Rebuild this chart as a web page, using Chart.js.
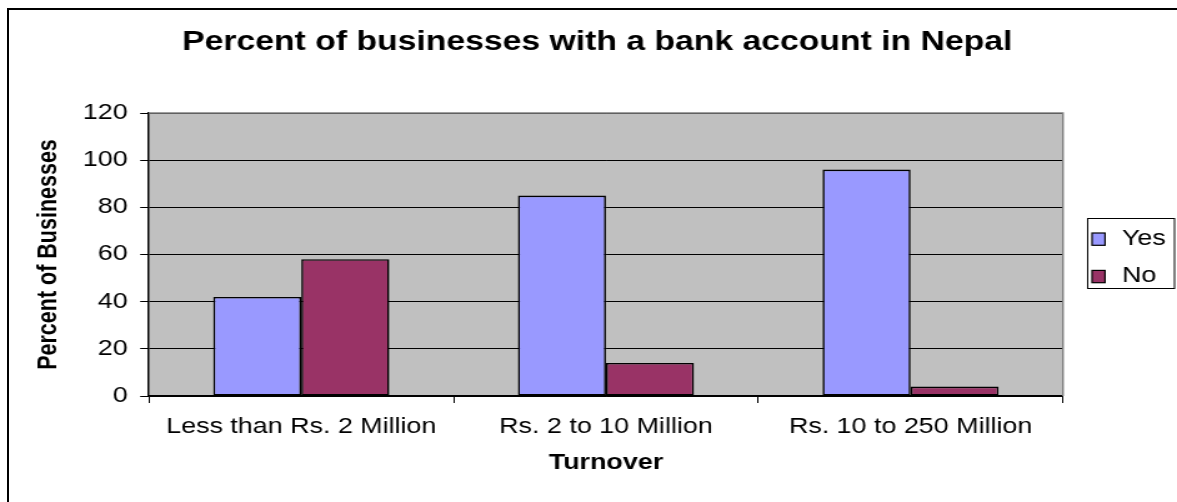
<!DOCTYPE html>
<html>
<head>
<meta charset="utf-8">
<script src="https://cdn.jsdelivr.net/npm/chart.js@4/dist/chart.umd.min.js"></script>
<style>
  html, body { margin: 0; padding: 0; background: #fff; overflow: hidden; }
  #frame { position: absolute; left: 7px; top: 8px; width: 1300px; height: 700px; border: 2px solid #000; box-sizing: border-box; }
  #chart { position: absolute; left: 0; top: 0; }
</style>
</head>
<body>
<div id="frame"></div>
<!-- the original picture is stretched sideways, so the canvas is too -->
<canvas id="chart" width="942" height="502" style="width:1177px;height:502px"></canvas>
<script>
const categories = ['Less than Rs. 2 Million', 'Rs. 2 to 10 Million', 'Rs. 10 to 250 Million'];
const seriesNames = ['Yes', 'No'];
const yesValues = [42, 85, 96];
const noValues = [58, 14, 4];
const yTicks = [0, 20, 40, 60, 80, 100, 120];

const FONT = "'Liberation Sans', Arial, sans-serif";

// gray plot area like the old Excel charts
const plotBackground = {
  id: 'plotBackground',
  beforeDraw(chart) {
    const { ctx, chartArea: a } = chart;
    ctx.save();
    ctx.fillStyle = '#C0C0C0';
    ctx.fillRect(a.left, a.top, a.right - a.left, a.bottom - a.top);
    ctx.restore();
  },
  beforeDatasetsDraw(chart) {
    const { ctx, chartArea: a } = chart;
    ctx.save();
    ctx.strokeStyle = '#808080';
    ctx.lineWidth = 1.5;
    ctx.beginPath();
    ctx.moveTo(a.left, a.top);
    ctx.lineTo(a.right, a.top);
    ctx.lineTo(a.right, a.bottom);
    ctx.stroke();
    ctx.restore();
  }
};

// boxed legend on the right
const legendBox = {
  id: 'legendBox',
  afterDraw(chart) {
    const { ctx, chartArea: a } = chart;
    const left = a.right + 19.3;
    const right = chart.width - 1.5;
    const mid = (a.top + a.bottom) / 2;
    const top = mid - 36.5;
    const bottom = mid + 34.5;
    ctx.save();
    ctx.fillStyle = '#fff';
    ctx.fillRect(left, top, right - left, bottom - top);
    ctx.strokeStyle = '#000';
    ctx.lineWidth = 1;
    ctx.strokeRect(left + 0.5, top + 0.5, right - left - 1, bottom - top - 1);
    ctx.font = '21.5px ' + FONT;
    ctx.textBaseline = 'middle';
    ctx.textAlign = 'left';
    chart.data.datasets.forEach((ds, i) => {
      const cy = top + 21 + i * 37.4;
      ctx.fillStyle = ds.backgroundColor;
      ctx.fillRect(left + 4, cy - 6, 10.4, 12.3);
      ctx.strokeStyle = '#000';
      ctx.lineWidth = 1.2;
      ctx.strokeRect(left + 4, cy - 6, 10.4, 12.3);
      ctx.fillStyle = '#000';
      ctx.fillText(ds.label, left + 28, cy);
    });
    ctx.restore();
  }
};

const ctx = document.getElementById('chart').getContext('2d');
new Chart(ctx, {
  type: 'bar',
  data: {
    labels: categories,
    datasets: [
      {
        label: seriesNames[0],
        data: yesValues,
        backgroundColor: '#9999FF',
        borderColor: '#000',
        borderWidth: 1.6,
        borderSkipped: false
      },
      {
        label: seriesNames[1],
        data: noValues,
        backgroundColor: '#993366',
        borderColor: '#000',
        borderWidth: 1.6,
        borderSkipped: false
      }
    ]
  },
  options: {
    responsive: false,
    devicePixelRatio: 1,
    animation: false,
    categoryPercentage: 0.578,
    barPercentage: 1,
    layout: { padding: { left: 14, right: 0, top: 0, bottom: 0 } },
    plugins: {
      legend: { display: false },
      tooltip: { enabled: false },
      title: {
        display: true,
        text: 'Percent of businesses with a bank account in Nepal',
        color: '#000',
        font: { family: FONT, size: 27, weight: 'bold', lineHeight: 1.2 },
        padding: { top: 26.5, bottom: 54.1 }
      }
    },
    scales: {
      x: {
        grid: { display: true, drawOnChartArea: false, drawTicks: true, tickLength: 7, color: '#000', offset: true },
        border: { display: true, color: '#000', width: 1.5 },
        ticks: { color: '#000', padding: 11, font: { family: FONT, size: 21.5, lineHeight: 1.2 } },
        title: {
          display: true,
          text: 'Turnover',
          color: '#000',
          font: { family: FONT, size: 21.5, weight: 'bold', lineHeight: 1.2 },
          padding: { top: 0, bottom: 25.6 }
        },
        afterFit: s => { s.height = 106; }
      },
      y: {
        min: yTicks[0],
        max: yTicks[yTicks.length - 1],
        grid: { color: '#000', lineWidth: 1, tickLength: 7, drawTicks: true },
        border: { display: true, color: '#000', width: 1.5 },
        ticks: {
          stepSize: yTicks[1] - yTicks[0],
          color: '#000',
          padding: 10,
          font: { family: FONT, size: 21.5 }
        },
        title: {
          display: true,
          text: 'Percent of Businesses',
          color: '#000',
          font: { family: FONT, size: 21.5, weight: 'bold', lineHeight: 1.2 },
          padding: { top: 12.3, bottom: 0 }
        },
        afterFit: s => { s.width = 105.2; }
      },
      // empty axis that only keeps room for the legend
      y2: {
        position: 'right',
        display: true,
        grid: { display: false, drawTicks: false },
        border: { display: false },
        ticks: { display: false },
        afterFit: s => { s.width = 91.3; }
      }
    }
  },
  plugins: [plotBackground, legendBox]
});
</script>
</body>
</html>
